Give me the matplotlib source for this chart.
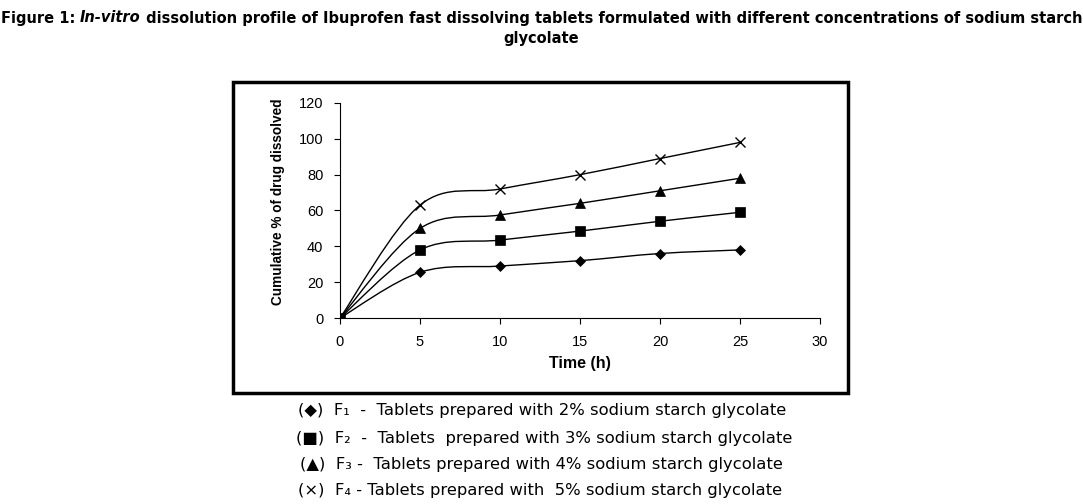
import numpy as np
import matplotlib
matplotlib.use("Agg")
import matplotlib.pyplot as plt
from matplotlib.path import Path
from matplotlib.patches import PathPatch, Rectangle

time_h = [0, 5, 10, 15, 20, 25]
f1 = [0, 25.5, 29, 32, 36, 38]
f2 = [0, 38, 43.5, 48.5, 54, 59]
f3 = [0, 50, 57.5, 64, 71, 78]
f4 = [0, 63, 72, 80, 89, 98]
series = [("F1", f1, "D", 5.5), ("F2", f2, "s", 7.5), ("F3", f3, "^", 7.5), ("F4", f4, "x", 7.5)]
xticks = [0, 5, 10, 15, 20, 25, 30]
yticks = [0, 20, 40, 60, 80, 100, 120]

title_parts = [("Figure 1: ", "normal"), ("In-vitro", "italic"),
               (" dissolution profile of Ibuprofen fast dissolving tablets formulated with different concentrations of sodium starch", "normal")]
title_l2 = "glycolate"
legend_lines = [
    "(\u25C6)  F\u2081  -  Tablets prepared with 2% sodium starch glycolate",
    "(\u25A0)  F\u2082  -  Tablets  prepared with 3% sodium starch glycolate",
    "(\u25B2)  F\u2083 -  Tablets prepared with 4% sodium starch glycolate",
    "(\u00D7)  F\u2084 - Tablets prepared with  5% sodium starch glycolate",
]

fig = plt.figure(figsize=(10.83, 5.04), dpi=100)
fig.patch.set_facecolor("white")

fig.patches.append(Rectangle((233/1083, 1-393/504), 615/1083, 311/504,
                             transform=fig.transFigure, fill=False,
                             edgecolor="black", linewidth=2.5))

ax = fig.add_axes([340/1083, 1-318/504, 480/1083, 215/504])
ax.set_xlim(0, 30)
ax.set_ylim(0, 120)
ax.set_xticks(xticks)
ax.set_yticks(yticks)
for s in ["top", "right"]:
    ax.spines[s].set_visible(False)
for s in ["left", "bottom"]:
    ax.spines[s].set_linewidth(0.8)
ax.tick_params(direction="out", length=4, width=0.8, labelsize=10.5, pad=8)
for lab in ax.get_xticklabels() + ax.get_yticklabels():
    lab.set_fontfamily("Liberation Sans")


def smooth_path(xs, ys, t=1/6):
    pts = list(zip(xs, ys))
    verts = [pts[0]]
    codes = [Path.MOVETO]
    n = len(pts)
    for i in range(n - 1):
        p0 = pts[i - 1] if i > 0 else pts[i]
        p1 = pts[i]
        p2 = pts[i + 1]
        p3 = pts[i + 2] if i + 2 < n else pts[i + 1]
        c1 = (p1[0] + (p2[0] - p0[0]) * t, p1[1] + (p2[1] - p0[1]) * t)
        c2 = (p2[0] - (p3[0] - p1[0]) * t, p2[1] - (p3[1] - p1[1]) * t)
        verts += [c1, c2, p2]
        codes += [Path.CURVE4] * 3
    return Path(verts, codes)


for name, ys, mk, ms in series:
    ax.add_patch(PathPatch(smooth_path(time_h, ys), fill=False, edgecolor="black",
                           linewidth=1.0, transform=ax.transData))
    ax.plot(time_h, ys, linestyle="none", marker=mk, markersize=ms, color="black",
            markeredgewidth=1.0 if mk == "x" else 0.5)

ax.set_xlabel("Time (h)", fontfamily="Liberation Sans", fontweight="bold", fontsize=11.5, labelpad=5)
ax.set_ylabel("Cumulative % of drug dissolved", fontfamily="Liberation Sans", fontweight="bold",
              fontsize=9.8)
ax.yaxis.set_label_coords(-0.115, 0.54)

# Title: measure pieces and fit to target width
renderer = fig.canvas.get_renderer()
tfs = 11
props = dict(fontfamily="DejaVu Sans", fontstretch="condensed", fontweight="bold")
pieces = []
for txt, style in title_parts:
    t = fig.text(0, 0, txt, fontsize=tfs, fontstyle=style, **props)
    pieces.append(t)
widths = [p.get_window_extent(renderer).width for p in pieces]
total = sum(widths)
scale = 1076 / total
for p in pieces:
    p.set_fontsize(tfs * scale)
widths = [p.get_window_extent(renderer).width for p in pieces]
total = sum(widths)
x = (1083 - total) / 2
for p, w in zip(pieces, widths):
    p.set_position((x / 1083, 1 - 18 / 504))
    p.set_va("center")
    x += w
fig.text(0.5, 1-39/504, title_l2, ha="center", va="center", fontsize=tfs * scale, **props)

ys_leg = [411, 438, 464, 490]
xs_leg = [298, 296, 300, 298]
for txt, yy, xx in zip(legend_lines, ys_leg, xs_leg):
    fig.text(xx/1083, 1-yy/504, txt, ha="left", va="center", fontsize=11.8,
             fontfamily="DejaVu Sans")

fig.savefig("out.png", dpi=100, facecolor="white")
